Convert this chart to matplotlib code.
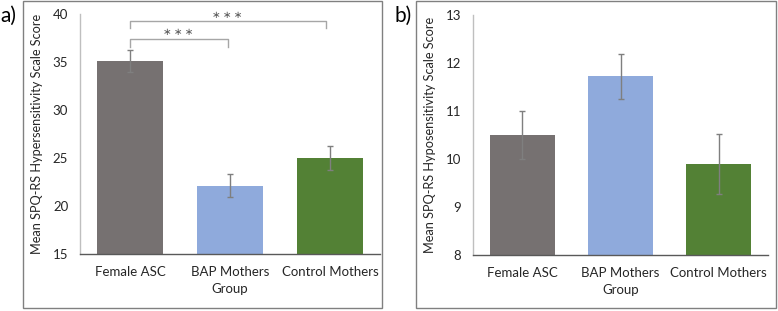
import matplotlib
matplotlib.use("Agg")
import matplotlib.pyplot as plt
from matplotlib.patches import Rectangle

categories = ["Female ASC", "BAP Mothers", "Control Mothers"]
hyper_means = [35.1, 22.1, 25.0]
hyper_err = [1.1, 1.2, 1.2]
hypo_means = [10.5, 11.72, 9.9]
hypo_err = [0.49, 0.47, 0.63]
colors = ["#767171", "#8FAADC", "#538135"]
hyper_ticks = [15, 20, 25, 30, 35, 40]
hypo_ticks = [8, 9, 10, 11, 12, 13]

plt.rcParams['font.family'] = ['Lato', 'DejaVu Sans']

W, H = 778, 311
fig = plt.figure(figsize=(W / 100, H / 100), dpi=100)


def px_axes(left, right, top, bottom):
    return fig.add_axes([left / W, (H - bottom) / H, (right - left) / W, (bottom - top) / H])


def style(ax, ylim, ticks, ylabel):
    ax.set_xlim(-0.5, 2.5)
    ax.set_ylim(*ylim)
    ax.set_yticks(ticks)
    ax.set_xticks(range(len(categories)))
    ax.set_xticklabels(categories)
    for s in ["top", "right"]:
        ax.spines[s].set_visible(False)
    ax.spines["left"].set_color("#BFBFBF")
    ax.spines["left"].set_linewidth(1.0)
    ax.spines["bottom"].set_color("#595959")
    ax.spines["bottom"].set_linewidth(1.0)
    ax.tick_params(axis="y", length=0, pad=8.5, labelsize=9.5, labelcolor="#262626")
    ax.tick_params(axis="x", length=0, pad=8.5, labelsize=9.5, labelcolor="#262626")
    ax.set_xlabel("Group", fontsize=9.5, color="#262626", labelpad=4)
    ax.set_ylabel(ylabel, fontsize=9.2, color="#262626", labelpad=7)


def draw_bars(ax, means, errs):
    ax.bar(range(len(categories)), means, width=0.66, color=colors, zorder=2)
    ax.errorbar(range(len(categories)), means, yerr=errs, fmt="none",
                ecolor="#7F7F7F", elinewidth=1.0, capsize=2.2, capthick=1.0, zorder=3)


# frames
fig.add_artist(Rectangle((23 / W, (H - 308) / H), (382 - 23) / W, (308 - 1) / H,
                         transform=fig.transFigure, fill=False, edgecolor="#808080", lw=1.0))
fig.add_artist(Rectangle((416 / W, (H - 308) / H), (776 - 416) / W, (308 - 1) / H,
                         transform=fig.transFigure, fill=False, edgecolor="#808080", lw=1.0))

# panel a
axa = px_axes(80, 380, 14, 254)
draw_bars(axa, hyper_means, hyper_err)
style(axa, (15, 40), hyper_ticks, "Mean SPQ-RS Hypersensitivity Scale Score")

# significance brackets
bc = "#A6A6A6"
axa.plot([0, 0, 1.96, 1.96], [38.5, 39.27, 39.27, 38.5], color=bc, lw=1.0, clip_on=False)
axa.plot([0, 0, 0.98, 0.98], [36.6, 37.4, 37.4, 36.6], color=bc, lw=1.0, clip_on=False)
axa.text(0.97, 39.9, "\u2217\u2009\u2217\u2009\u2217", ha="center", va="center", fontsize=7.5,
         color="#595959", family="DejaVu Sans")
axa.text(0.48, 38.1, "\u2217\u2009\u2217\u2009\u2217", ha="center", va="center", fontsize=7.5,
         color="#595959", family="DejaVu Sans")

# panel b
axb = px_axes(473, 768, 15, 255)
draw_bars(axb, hypo_means, hypo_err)
style(axb, (8, 13), hypo_ticks, "Mean SPQ-RS Hyposensitivity Scale Score")

fig.text(0 / W, (H - 16) / H, "a)", fontsize=15, ha="left", va="center", color="#000000")
fig.text(394 / W, (H - 16) / H, "b)", fontsize=15, ha="left", va="center", color="#000000")

fig.savefig("out.png", dpi=100)
